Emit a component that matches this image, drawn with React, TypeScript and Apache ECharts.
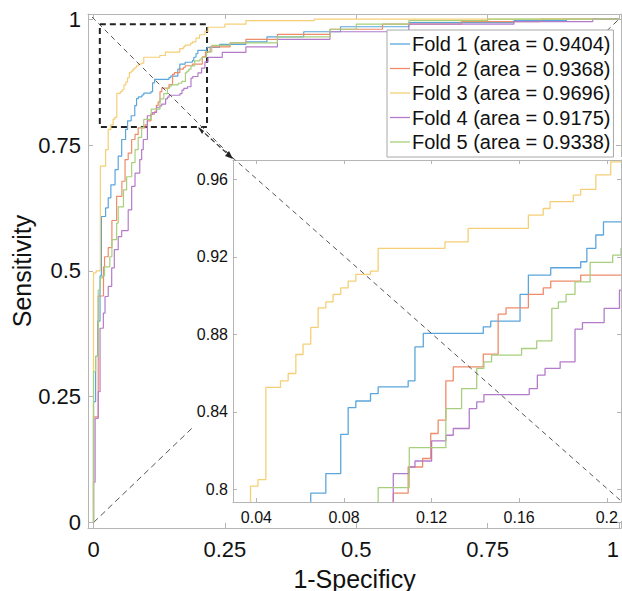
import React, { useEffect, useRef } from "react";
import * as echarts from "echarts";

const foldNames = [
  "Fold 1 (area = 0.9404)",
  "Fold 2 (area = 0.9368)",
  "Fold 3 (area = 0.9696)",
  "Fold 4 (area = 0.9175)",
  "Fold 5 (area = 0.9338)",
];

const mainTicks = [0, 0.25, 0.5, 0.75, 1];
const insetXTicks = [0.04, 0.08, 0.12, 0.16, 0.2];
const insetYTicks = [0.8, 0.84, 0.88, 0.92, 0.96];

// [1-specificity, sensitivity] corner points (step: horizontal then vertical)
const fold1 = [[0,0],[0,0.24],[0.004,0.33],[0.008,0.40],[0.0124,0.49],[0.015,0.608],[0.023,0.625],[0.028,0.645],[0.033,0.671],[0.041,0.701],[0.047,0.728],[0.0536,0.761],[0.061,0.781],[0.0648,0.798],[0.0717,0.8081],[0.0785,0.8284],[0.0819,0.8422],[0.0854,0.8456],[0.0921,0.8494],[0.0956,0.8529],[0.1093,0.856],[0.1124,0.8735],[0.1162,0.8805],[0.1436,0.8839],[0.147,0.8868],[0.1604,0.9006],[0.1642,0.9106],[0.1744,0.9144],[0.1881,0.9175],[0.1909,0.9244],[0.195,0.9313],[0.1985,0.9381],[0.216,0.944],[0.24,0.95],[0.29,0.955],[0.33,0.965],[0.4,0.975],[0.47,0.985],[0.6,0.993],[0.8,0.997],[0.9,1],[1,1]];
const fold2 = [[0,0],[0,0.21],[0.009,0.45],[0.019,0.508],[0.021,0.528],[0.028,0.546],[0.035,0.60],[0.044,0.648],[0.054,0.678],[0.06,0.721],[0.066,0.734],[0.0726,0.761],[0.079,0.771],[0.085,0.784],[0.098,0.79],[0.1025,0.798],[0.1093,0.8115],[0.1159,0.8159],[0.1196,0.8288],[0.123,0.8357],[0.1265,0.856],[0.1299,0.8632],[0.1436,0.8698],[0.1504,0.8904],[0.154,0.8937],[0.1642,0.9006],[0.171,0.904],[0.1744,0.9075],[0.1881,0.9106],[0.207,0.925],[0.213,0.935],[0.222,0.945],[0.26,0.953],[0.29,0.96],[0.35,0.97],[0.45,0.98],[0.55,0.99],[0.7,0.995],[0.85,1],[1,1]];
const fold3 = [[0,0],[0,0.496],[0.005,0.5],[0.013,0.708],[0.023,0.741],[0.028,0.781],[0.033,0.79],[0.0373,0.8016],[0.0407,0.805],[0.0443,0.8526],[0.051,0.856],[0.0545,0.8598],[0.058,0.8696],[0.0613,0.875],[0.0648,0.8836],[0.0682,0.8937],[0.0717,0.8968],[0.075,0.9006],[0.0785,0.904],[0.0819,0.9075],[0.0854,0.911],[0.0921,0.9127],[0.0956,0.9244],[0.1261,0.9278],[0.1367,0.9347],[0.1642,0.9416],[0.171,0.945],[0.1741,0.9485],[0.1847,0.9519],[0.1881,0.9549],[0.195,0.9623],[0.2018,0.9691],[0.212,0.976],[0.218,0.984],[0.25,0.99],[0.29,0.997],[0.42,1],[1,1]];
const fold4 = [[0,0],[0,0.08],[0.003,0.207],[0.009,0.26],[0.0124,0.386],[0.0187,0.416],[0.0219,0.449],[0.028,0.469],[0.0346,0.506],[0.0396,0.542],[0.047,0.568],[0.0536,0.58],[0.066,0.621],[0.0726,0.668],[0.079,0.694],[0.088,0.721],[0.0916,0.741],[0.0947,0.761],[0.1025,0.8081],[0.1098,0.8115],[0.1124,0.8146],[0.12,0.825],[0.1265,0.8279],[0.1299,0.8314],[0.1372,0.8417],[0.1406,0.8451],[0.1439,0.8489],[0.1646,0.852],[0.1683,0.8589],[0.1718,0.8624],[0.1787,0.8658],[0.1855,0.8827],[0.1889,0.8861],[0.1988,0.8934],[0.2058,0.9028],[0.212,0.915],[0.218,0.924],[0.245,0.934],[0.29,0.945],[0.35,0.96],[0.45,0.975],[0.6,0.99],[0.8,0.995],[0.95,1],[1,1]];
const fold5 = [[0,0],[0,0.30],[0.004,0.33],[0.009,0.462],[0.013,0.486],[0.017,0.49],[0.021,0.508],[0.031,0.528],[0.035,0.562],[0.044,0.595],[0.047,0.627],[0.057,0.661],[0.063,0.687],[0.0726,0.715],[0.079,0.741],[0.085,0.765],[0.0916,0.785],[0.0956,0.8009],[0.1098,0.8215],[0.1265,0.8417],[0.1337,0.852],[0.1406,0.8624],[0.1439,0.8658],[0.1474,0.8693],[0.1611,0.8727],[0.168,0.8766],[0.1749,0.8934],[0.1779,0.8968],[0.1814,0.9006],[0.1855,0.9071],[0.1924,0.9172],[0.2027,0.9209],[0.2065,0.9244],[0.215,0.935],[0.225,0.948],[0.26,0.953],[0.35,0.965],[0.45,0.98],[0.5,0.99],[0.6,0.997],[0.75,1],[1,1]];
const chanceLine = [[0,0],[1,1]];
const zoomBox = [[0.012, 0.99], [0.216, 0.786]];

const folds = [fold1, fold2, fold3, fold4, fold5];
const colors = ["#5AA6DC", "#EE8C69", "#F5CF75", "#B57BCB", "#A8CF7E"];
const FONT = "Liberation Sans, Arial, Helvetica, sans-serif";
const AXIS_GRAY = "#b5b5b5";

const fmt = (v: number) => String(+Number(v).toFixed(2));

function valueAxis(extra: any) {
  return {
    type: "value",
    splitLine: { show: false },
    axisLine: { show: true, onZero: false, lineStyle: { color: AXIS_GRAY, width: 1 } },
    ...extra,
  };
}

export default function App() {
  const ref = useRef<HTMLDivElement>(null);
  useEffect(() => {
    if (!ref.current) return;
    const chart = echarts.init(ref.current, null, { renderer: "svg" });
    const mainTick = { show: true, inside: true, length: 5, lineStyle: { color: AXIS_GRAY }, customValues: mainTicks };
    const insetTickX = { show: true, inside: true, length: 4, lineStyle: { color: AXIS_GRAY }, customValues: insetXTicks };
    const insetTickY = { show: true, inside: true, length: 4, lineStyle: { color: AXIS_GRAY }, customValues: insetYTicks };
    const mainX = { min: -0.0105, max: 1.0038 };
    const mainY = { min: -0.0109, max: 1.0103 };
    const inX = { min: 0.0293, max: 0.2065 };
    const inY = { min: 0.79344, max: 0.97003 };

    const series: any[] = [];
    folds.forEach((d, i) => {
      series.push({
        name: foldNames[i], type: "line", step: "end", data: d,
        xAxisIndex: 0, yAxisIndex: 0, symbol: "none", showSymbol: false,
        lineStyle: { color: colors[i], width: 1.2 }, itemStyle: { color: colors[i] },
        z: 3, silent: true,
      });
    });
    series.push({
      name: "chance", type: "line", data: chanceLine, xAxisIndex: 0, yAxisIndex: 0,
      symbol: "none", lineStyle: { color: "#555", width: 1, type: [6, 4] }, z: 2, silent: true,
      markArea: {
        silent: true,
        itemStyle: { color: "rgba(0,0,0,0)", borderColor: "#222", borderWidth: 2, borderType: [6, 4] },
        data: [[{ coord: zoomBox[0] }, { coord: zoomBox[1] }]],
      },
    });
    folds.forEach((d, i) => {
      series.push({
        name: foldNames[i], type: "line", step: "end", data: d,
        xAxisIndex: 2, yAxisIndex: 2, symbol: "none", showSymbol: false,
        lineStyle: { color: colors[i], width: 1.3 }, itemStyle: { color: colors[i] },
        z: 12, silent: true, clip: true,
      });
    });

    chart.setOption({
      animation: false,
      textStyle: { fontFamily: FONT },
      grid: [
        { left: 88, top: 14, width: 533, height: 514, show: false, outerBoundsMode: "none", containLabel: false },
        { left: 233, top: 160, width: 388, height: 342, show: false, outerBoundsMode: "none", containLabel: false },
      ],
      xAxis: [
        valueAxis({
          gridIndex: 0, position: "bottom", ...mainX,
          axisTick: mainTick,
          axisLabel: { customValues: mainTicks, formatter: fmt, color: "#111", fontSize: 22, margin: 10, fontFamily: FONT, alignMaxLabel: "right" },
          name: "1-Specificy", nameLocation: "middle", nameGap: 38, nameMoveOverlap: false,
          nameTextStyle: { fontSize: 25, color: "#111", fontFamily: FONT },
        }),
        valueAxis({ gridIndex: 0, position: "top", ...mainX, axisTick: mainTick, axisLabel: { show: false } }),
        valueAxis({
          gridIndex: 1, position: "bottom", ...inX, z: 20,
          axisTick: insetTickX,
          axisLabel: { customValues: insetXTicks, formatter: fmt, color: "#111", fontSize: 16, margin: 7, fontFamily: FONT },
        }),
        valueAxis({ gridIndex: 1, position: "top", ...inX, z: 20, axisTick: insetTickX, axisLabel: { show: false } }),
      ],
      yAxis: [
        valueAxis({
          gridIndex: 0, position: "left", ...mainY,
          axisTick: mainTick,
          axisLabel: { customValues: mainTicks, formatter: fmt, color: "#111", fontSize: 22, margin: 7, fontFamily: FONT },
          name: "Sensitivity", nameLocation: "middle", nameGap: 54, nameMoveOverlap: false,
          nameTextStyle: { fontSize: 25, color: "#111", fontFamily: FONT },
        }),
        valueAxis({ gridIndex: 0, position: "right", ...mainY, axisTick: mainTick, axisLabel: { show: false } }),
        valueAxis({
          gridIndex: 1, position: "left", ...inY, z: 20,
          axisTick: insetTickY,
          axisLabel: { customValues: insetYTicks, formatter: fmt, color: "#111", fontSize: 16, margin: 5, fontFamily: FONT },
        }),
        valueAxis({ gridIndex: 1, position: "right", ...inY, z: 20, axisTick: insetTickY, axisLabel: { show: false } }),
      ],
      legend: {
        data: foldNames.map((n) => ({ name: n, icon: "rect" })),
        orient: "vertical",
        left: 387, top: 30,
        padding: [4, 3, 5, 3],
        itemWidth: 20, itemHeight: 1.3, itemGap: 4.5,
        backgroundColor: "#fff",
        borderColor: "#a8a8a8", borderWidth: 1, borderRadius: 0,
        textStyle: { fontSize: 20, color: "#111", fontFamily: FONT, lineHeight: 20, padding: [0, 0, 0, -3] },
        selectedMode: false,
        z: 30,
      },
      graphic: [
        { type: "rect", z: 8, silent: true, shape: { x: 193, y: 157, width: 429, height: 364 }, style: { fill: "#fff" } },
        { type: "polyline", z: 25, silent: true, shape: { points: [[92, 17], [233, 158], [620, 500]] },
          style: { stroke: "#555", lineWidth: 1, lineDash: [5, 4], fill: null } },
        { type: "line", z: 25, silent: true, shape: { x1: 199, y1: 128, x2: 231, y2: 157 },
          style: { stroke: "#333", lineWidth: 1.2, lineDash: [5, 3] } },
        { type: "polygon", z: 26, silent: true, shape: { points: [[233, 159], [225, 156], [229, 151]] }, style: { fill: "#222" } },
        { type: "polygon", z: 26, silent: true, shape: { points: [[198, 127], [204, 131], [202, 134]] }, style: { fill: "#222" } },
      ],
      series,
    });
    return () => chart.dispose();
  }, []);
  return <div ref={ref} style={{ position: "absolute", left: 0, top: 0, width: 622, height: 591, background: "#fff" }} />;
}
